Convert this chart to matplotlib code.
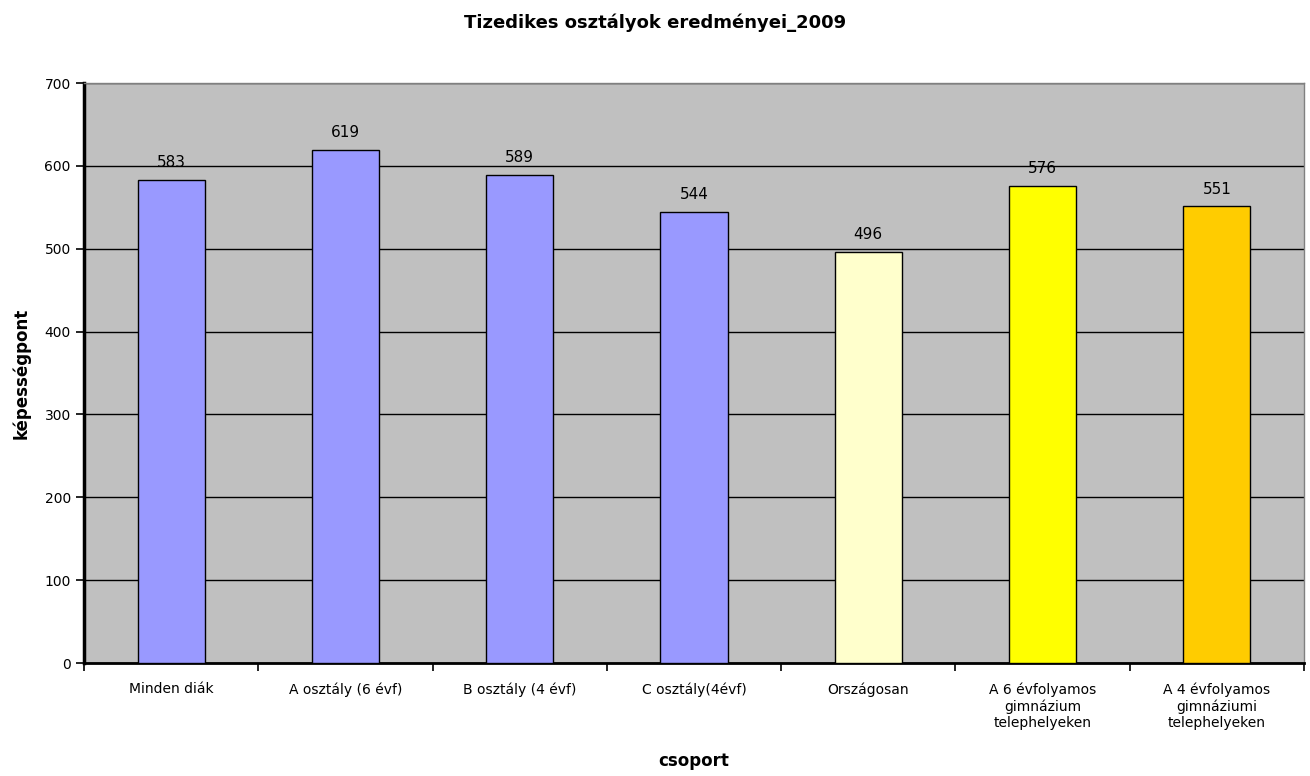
import matplotlib
matplotlib.use("Agg")
import matplotlib.pyplot as plt
import numpy as np

categories = ["Minden diák", "A osztály (6 évf)", "B osztály (4 évf)", "C osztály(4évf)",
              "Országosan", "A 6 évfolyamos\ngimnázium\ntelephelyeken",
              "A 4 évfolyamos\ngimnáziumi\ntelephelyeken"]
values = [583, 619, 589, 544, 496, 576, 551]
colors = ["#9999FF", "#9999FF", "#9999FF", "#9999FF", "#FFFFCC", "#FFFF00", "#FFCC00"]
yticks = [0, 100, 200, 300, 400, 500, 600, 700]

fig = plt.figure(figsize=(13.1, 7.76), dpi=100)
ax = fig.add_axes([0.0641, 0.1456, 0.9313, 0.7474])
ax.set_facecolor("#C0C0C0")
x = np.arange(len(categories))
ax.bar(x, values, width=0.385, color=colors, edgecolor="black", linewidth=1.0, zorder=3)
for xi, v in zip(x, values):
    ax.text(xi, v + 12, str(v), ha="center", va="bottom", fontsize=11, color="black")
ax.set_xlim(-0.5, len(categories) - 0.5)
ax.set_ylim(0, 700)
ax.set_yticks(yticks)
ax.set_yticklabels([str(t) for t in yticks], fontsize=10)
ax.yaxis.grid(True, color="black", linewidth=1.0, zorder=1)
ax.set_axisbelow(True)
ax.set_xticks(np.arange(len(categories) + 1) - 0.5)
ax.set_xticklabels([])
ax.set_xticks(x, minor=True)
ax.set_xticklabels(categories, minor=True, fontsize=10)
ax.tick_params(axis="x", which="minor", length=0, pad=14)
ax.tick_params(axis="x", which="major", length=6, width=1.2, direction="out")
ax.tick_params(axis="y", length=6, width=1.2, direction="out")
for s in ["top", "right"]:
    ax.spines[s].set_color("#808080")
    ax.spines[s].set_linewidth(1.0)
ax.spines["left"].set_linewidth(2.5)
ax.spines["bottom"].set_linewidth(2.0)
ax.set_ylabel("képességpont", fontsize=12, fontweight="bold", labelpad=10)
ax.set_xlabel("csoport", fontsize=12, fontweight="bold", labelpad=16)
fig.suptitle("Tizedikes osztályok eredményei_2009", fontsize=13, fontweight="bold", y=0.982)
fig.savefig("out.png", dpi=100)
